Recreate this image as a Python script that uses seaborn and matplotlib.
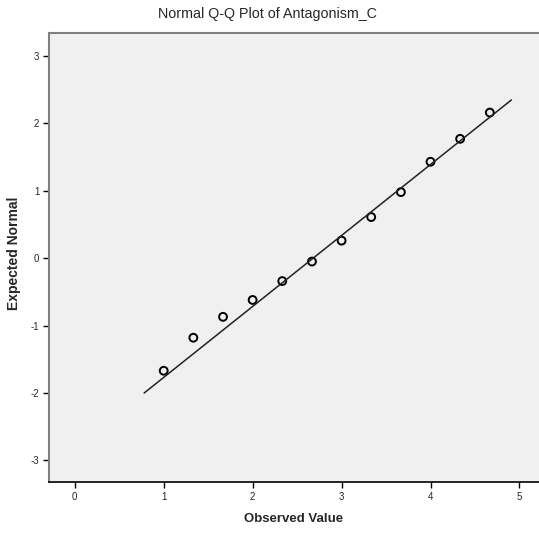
import numpy as np
import pandas as pd
import seaborn as sns
import matplotlib.pyplot as plt
import matplotlib.font_manager as fm

# =========================
# Data
# =========================
observed = [1.0, 1.333, 1.667, 2.0, 2.333, 2.667, 3.0, 3.333, 3.667, 4.0, 4.333, 4.667]
expected = [-1.67, -1.18, -0.87, -0.62, -0.34, -0.05, 0.26, 0.61, 0.98, 1.43, 1.77, 2.16]

# reference line parameters (normal fit)
line_mean = 2.68
line_sd = 0.95
line_x = [0.78, 4.91]

x_ticks = [0, 1, 2, 3, 4, 5]
y_ticks = [-3, -2, -1, 0, 1, 2, 3]

df = pd.DataFrame({"Observed Value": observed, "Expected Normal": expected})

sns.set_style("white")
names = {f.name for f in fm.fontManager.ttflist}
narrow = "Liberation Sans Narrow" if "Liberation Sans Narrow" in names else "Liberation Sans"
plt.rcParams["font.family"] = [narrow, "DejaVu Sans"]
plt.rcParams["axes.unicode_minus"] = False

fig = plt.figure(figsize=(5.39, 5.34), dpi=100)
ax = fig.add_axes([49/539, 52/534, 490/539, 449/534])
ax.set_facecolor("#f0f0f0")

# garis referensi
lx = np.array(line_x)
ly = (lx - line_mean) / line_sd
sns.lineplot(x=lx, y=ly, ax=ax, color="#222222", linewidth=1.1)

# titik data
sns.scatterplot(data=df, x="Observed Value", y="Expected Normal", ax=ax,
                marker="o", s=32, facecolor="none", edgecolor="black", linewidth=1.4)

ax.set_xlim(-0.29, 5.22)
ax.set_ylim(-3.32, 3.34)
ax.set_xticks(x_ticks)
ax.set_yticks(y_ticks)
ax.tick_params(axis="both", direction="out", length=4, width=1, color="black",
               labelsize=7, pad=3, bottom=True, left=True)

for s in ["top", "left"]:
    ax.spines[s].set_color("#808080")
    ax.spines[s].set_linewidth(1.5)
ax.spines["bottom"].set_color("black")
ax.spines["bottom"].set_linewidth(1.2)
ax.spines["right"].set_visible(False)

ax.set_xlabel("Observed Value", fontsize=9.5, fontweight="bold")
ax.set_ylabel("Expected Normal", fontsize=10, fontweight="bold")
ax.xaxis.set_label_coords(0.5, -0.068)
ax.yaxis.set_label_coords(-28/490, 0.51)

fig.text(0.497, 0.973, "Normal Q-Q Plot of Antagonism_C", ha="center", va="center",
         fontsize=10.3)

plt.savefig("out.png", dpi=100)
